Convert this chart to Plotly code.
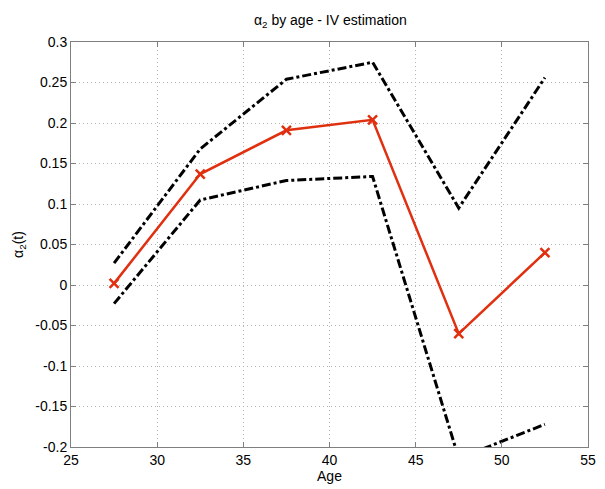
import plotly.graph_objects as go

# age group midpoints
age = [27.5, 32.5, 37.5, 42.5, 47.5, 52.5]

# alpha_2 estimates and confidence bounds
alpha2 = [0.002, 0.137, 0.191, 0.204, -0.060, 0.040]
upper = [0.027, 0.168, 0.254, 0.275, 0.095, 0.256]
lower = [-0.023, 0.105, 0.129, 0.134, -0.214, -0.172]

x_ticks = [25, 30, 35, 40, 45, 50, 55]
y_ticks = [-0.2, -0.15, -0.1, -0.05, 0, 0.05, 0.1, 0.15, 0.2, 0.25, 0.3]
y_labels = ['-0.2', '-0.15', '-0.1', '-0.05', '0', '0.05', '0.1', '0.15', '0.2', '0.25', '0.3']

fig = go.Figure()

# confidence bounds (dash-dot, black)
for band in [upper, lower]:
    fig.add_trace(go.Scatter(x=age, y=band, mode='lines',
                             line=dict(color='black', width=3, dash='dashdot')))

# point estimate
fig.add_trace(go.Scatter(x=age, y=alpha2, mode='lines+markers',
                         line=dict(color='#e0300f', width=2.5),
                         marker=dict(symbol='x-thin', size=9,
                                     line=dict(color='#e0300f', width=2.5))))

axis_common = dict(showline=True, linecolor='#7f7f7f', linewidth=1, mirror='ticks',
                   ticks='inside', ticklen=5, tickcolor='#7f7f7f',
                   showgrid=True, gridcolor='#b4b4b4', griddash='1px,3px', gridwidth=1,
                   zeroline=False, tickfont=dict(size=14, color='black'))

fig.update_xaxes(range=[25, 55], tickvals=x_ticks,
                 title=dict(text='Age', font=dict(size=14, color='black'), standoff=2),
                 **axis_common)
fig.update_yaxes(range=[-0.2, 0.3], tickvals=y_ticks, ticktext=y_labels,
                 title=dict(text='α<sub>2</sub>(t)', font=dict(size=14, color='black'), standoff=8),
                 **axis_common)

# page body has an 8px margin, so size the figure to land in the same place
fig.update_layout(
    width=597, height=481,
    showlegend=False,
    plot_bgcolor='white', paper_bgcolor='white',
    font=dict(family='Liberation Sans, Arial, sans-serif'),
    title=dict(text='α<sub>2</sub> by age - IV estimation', x=0.54, xanchor='center',
               y=0.985, yanchor='top', font=dict(size=14, color='black')),
    margin=dict(l=59, r=9, t=34, b=41),
)

fig.write_html("out.html")
